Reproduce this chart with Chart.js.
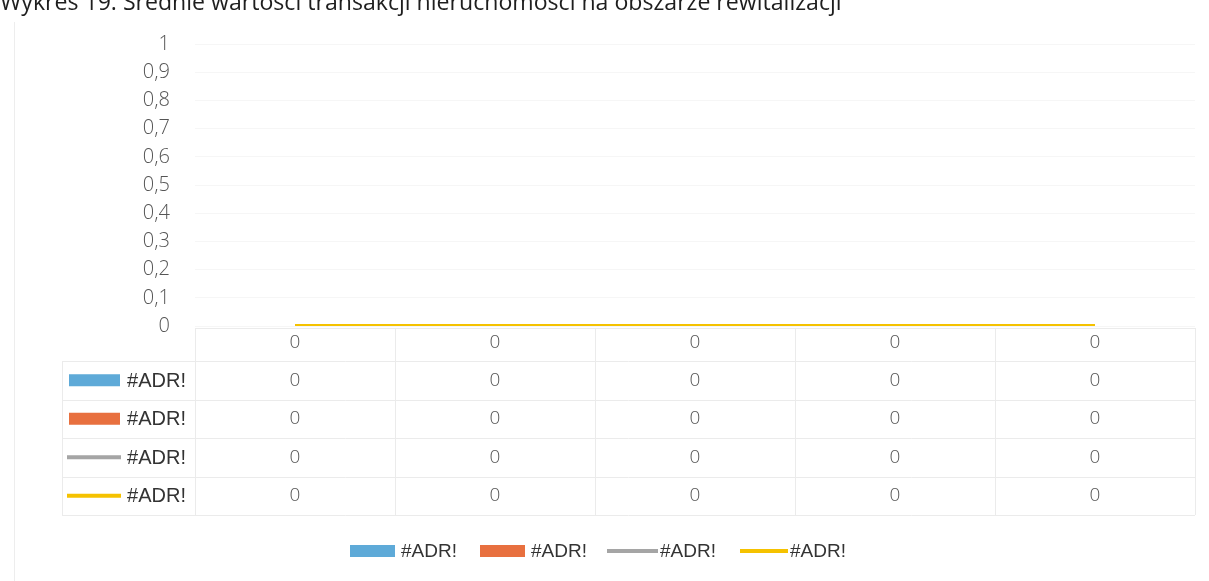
<!DOCTYPE html>
<html>
<head>
<meta charset="utf-8">
<script src="https://cdn.jsdelivr.net/npm/chart.js@4/dist/chart.umd.min.js"></script>
<style>
  html, body { margin: 0; padding: 0; background: #fff; }
  #wrap { width: 1209px; height: 581px; position: relative; }
</style>
</head>
<body>
<div id="wrap"><canvas id="Chart" width="1209" height="581"></canvas></div>
<script>
var title = 'Wykres 19. Średnie wartości transakcji nieruchomości na obszarze rewitalizacji';
var categories = ['0', '0', '0', '0', '0'];
var names = ['#ADR!', '#ADR!', '#ADR!', '#ADR!'];
var blueVals = [0, 0, 0, 0, 0];
var orangeVals = [0, 0, 0, 0, 0];
var grayVals = [0, 0, 0, 0, 0];
var yellowVals = [0, 0, 0, 0, 0];
var yMax = 1;
var yStep = 0.1;

var tableFont = '300 19px "Open Sans"';
var nameFont = '20px "Liberation Sans"';
var legendFont = '19px "Liberation Sans"';
var rowTop = 361, rowH = 38.5;

function fmt(v) {
    return String(Math.round(v * 10) / 10).replace('.', ',');
}

// key for a dataset: a block for bars, a thick stroke for lines
function drawKey(ctx, ds, x, y, w) {
    ctx.save();
    if (ds.type === 'line') {
        ctx.strokeStyle = ds.borderColor;
        ctx.lineWidth = ds.label === names[3] ? 4 : 3.5;
        ctx.beginPath();
        ctx.moveTo(x, y);
        ctx.lineTo(x + w, y);
        ctx.stroke();
    } else {
        ctx.fillStyle = ds.backgroundColor;
        ctx.fillRect(x, y - 6, w, 12);
    }
    ctx.restore();
}

var extras = {
    id: 'extras',
    afterDraw: function(chart) {
        var ctx = chart.ctx;
        var xs = chart.scales.x;
        var area = chart.chartArea;
        var sets = chart.data.datasets;
        ctx.save();

        // title, cut off at the top edge
        ctx.fillStyle = '#1e1e1e';
        ctx.font = '19px "Open Sans"';
        var w = ctx.measureText(title).width;
        var size = 19 * 842 / w;
        ctx.font = size.toFixed(1) + 'px "Open Sans"';
        ctx.textAlign = 'left';
        ctx.textBaseline = 'alphabetic';
        ctx.fillText(title, 0, 10);

        // faint frame edge on the left
        ctx.strokeStyle = 'rgba(0,0,0,0.07)';
        ctx.lineWidth = 1;
        ctx.beginPath();
        ctx.moveTo(14.5, 22);
        ctx.lineTo(14.5, 581);
        ctx.stroke();

        // data table grid
        var bottom = rowTop + rowH * sets.length;
        ctx.strokeStyle = '#ebebeb';
        ctx.beginPath();
        ctx.moveTo(area.left, area.bottom + 2.5);
        ctx.lineTo(area.right, area.bottom + 2.5);
        for (var r = 0; r <= sets.length; r++) {
            var yy = Math.round(rowTop + r * rowH) + 0.5;
            ctx.moveTo(62, yy);
            ctx.lineTo(area.right, yy);
        }
        ctx.moveTo(62.5, rowTop);
        ctx.lineTo(62.5, bottom);
        var step = (area.right - area.left) / categories.length;
        for (var c = 0; c <= categories.length; c++) {
            var xx = Math.round(area.left + c * step) + 0.5;
            ctx.moveTo(xx, area.bottom + 2);
            ctx.lineTo(xx, bottom);
        }
        ctx.stroke();

        // row headers and values
        ctx.textBaseline = 'middle';
        sets.forEach(function(ds, r) {
            var cy = rowTop + r * rowH + rowH / 2;
            if (ds.type === 'line') drawKey(ctx, ds, 67, cy, 54);
            else drawKey(ctx, ds, 69, cy, 51);
            ctx.fillStyle = '#333';
            ctx.font = nameFont;
            ctx.textAlign = 'right';
            ctx.fillText(ds.label, 186, cy + 1);
            ctx.fillStyle = '#555';
            ctx.font = tableFont;
            ctx.textAlign = 'center';
            ds.data.forEach(function(v, i) {
                ctx.fillText(fmt(v), xs.getPixelForValue(i), cy);
            });
        });

        // legend below the table
        var lx = [350, 480, 607, 740];
        var lw = [45, 45, 51, 48];
        sets.forEach(function(ds, i) {
            drawKey(ctx, ds, lx[i], 551, lw[i]);
            ctx.fillStyle = '#333';
            ctx.font = legendFont;
            ctx.textAlign = 'left';
            ctx.fillText(ds.label, lx[i] + lw[i] + (ds.type === 'line' ? 2 : 6), 552);
        });
        ctx.restore();
    }
};

var ctx = document.getElementById('Chart');
var newChart = new Chart(ctx, {
    type: 'bar',
    data: {
        labels: categories,
        datasets: [
            { label: names[0], data: blueVals, backgroundColor: '#5EAAD8', order: 4 },
            { label: names[1], data: orangeVals, backgroundColor: '#E8703F', order: 3 },
            { type: 'line', label: names[2], data: grayVals, borderColor: '#A5A5A5', backgroundColor: '#A5A5A5',
              borderWidth: 4, pointRadius: 0, tension: 0, order: 2 },
            { type: 'line', label: names[3], data: yellowVals, borderColor: '#F5C200', backgroundColor: '#F5C200',
              borderWidth: 4, pointRadius: 0, tension: 0, order: 1 }
        ]
    },
    options: {
        responsive: false,
        animation: false,
        layout: { padding: { top: 44, right: 14, left: 0, bottom: 0 } },
        plugins: {
            legend: { display: false },
            tooltip: { enabled: false }
        },
        scales: {
            x: {
                grid: { display: false, drawTicks: false },
                border: { display: false },
                ticks: { color: '#555', font: { family: 'Open Sans', size: 19, weight: '300' }, padding: 5 },
                afterFit: function(scale) { scale.height = 255; }
            },
            y: {
                min: 0,
                max: yMax,
                grid: { color: 'rgba(0,0,0,0.035)', drawTicks: false },
                border: { display: false },
                ticks: {
                    stepSize: yStep,
                    padding: 25,
                    color: '#555',
                    font: { family: 'Open Sans', size: 20, weight: '300' },
                    callback: function(v) { return fmt(v); }
                },
                afterFit: function(scale) { scale.width = 195; }
            }
        }
    },
    plugins: [extras]
});
</script>
</body>
</html>
